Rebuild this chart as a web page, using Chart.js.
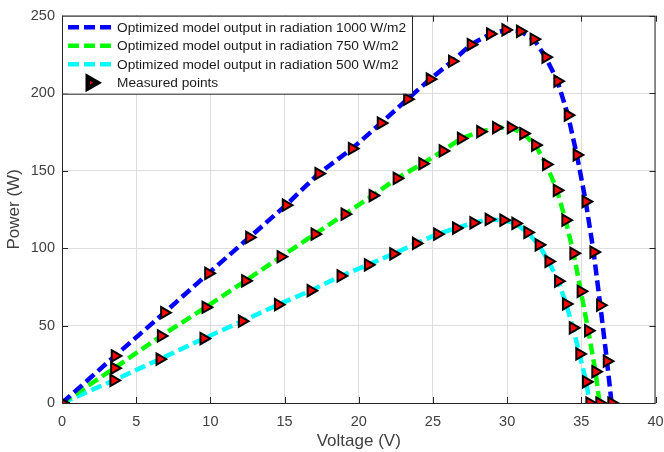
<!doctype html>
<html>

<head>
    <title>PV curves</title>
    <script src="https://cdn.jsdelivr.net/npm/chart.js"></script>
    <style>
        body { margin: 0; background: #fff; }
    </style>
</head>

<body>
    <canvas id="curvaPV" width="664" height="452"></canvas>

    <script>
        // valores (tensao em V, potencia em W)
        const tensao1000 = [0, 3.57, 6.9, 9.87, 12.63, 15.1, 17.3, 19.55, 21.5, 23.28, 24.8, 26.3, 27.56, 28.86, 29.9, 30.88, 31.8, 32.6, 33.4, 34.1, 34.7, 35.3, 35.83, 36.28, 36.73, 37.04]
        const potencia1000 = [0, 30.4, 58.3, 83.7, 106.9, 127.7, 148.1, 164.2, 180.7, 196.1, 209, 220.6, 231.4, 238.2, 240.8, 239.9, 234.8, 223.2, 207.7, 185.8, 160.1, 130, 97.4, 63.1, 27, 0]

        const tensao750 = [0, 3.53, 6.68, 9.69, 12.36, 14.75, 17.04, 19.06, 20.95, 22.57, 24.3, 25.67, 26.9, 28.2, 29.27, 30.26, 31.1, 31.9, 32.64, 33.36, 33.94, 34.48, 34.97, 35.47, 35.96, 36.23]
        const potencia750 = [0, 22.5, 43.3, 61.8, 78.9, 94.4, 109, 121.9, 133.9, 145, 154.5, 162.7, 170.8, 175.1, 177.7, 177.7, 173.9, 166.5, 154, 137.3, 118, 96.6, 72.1, 46.7, 20.2, 0]

        const tensao500 = [0, 3.48, 6.59, 9.55, 12.14, 14.57, 16.77, 18.79, 20.63, 22.34, 23.87, 25.3, 26.57, 27.74, 28.77, 29.76, 30.57, 31.38, 32.14, 32.8, 33.45, 33.98, 34.44, 34.88, 35.33, 35.56]
        const potencia500 = [0, 14.6, 28.3, 41.6, 52.8, 63.5, 72.5, 82, 89.2, 96.3, 103, 109, 112.9, 116.3, 118.5, 118, 115.9, 110.1, 102.1, 91.4, 78.6, 63.9, 48.5, 31.7, 13.7, 0]

        const xTicks = [0, 5, 10, 15, 20, 25, 30, 35, 40]
        const yTicks = [0, 50, 100, 150, 200, 250]

        const nomesSeries = [
            'Optimized model output in radiation 1000 W/m2',
            'Optimized model output in radiation 750 W/m2',
            'Optimized model output in radiation 500 W/m2',
            'Measured points'
        ]
        const coresSeries = ['#0000ff', '#00ff00', '#00ffff']

        const fonte = '"Liberation Sans", Arial, sans-serif'
        const traco = [11, 5]

        function pontos(xs, ys) {
            return xs.map((x, i) => ({ x: x, y: ys[i] }))
        }

        const series = [
            pontos(tensao1000, potencia1000),
            pontos(tensao750, potencia750),
            pontos(tensao500, potencia500)
        ]

        function desenhaTriangulo(ctx, x, y) {
            Chart.helpers.drawPoint(ctx, { pointStyle: 'triangle', rotation: 90, radius: 6.5, borderWidth: 2 }, x, y)
        }

        // caixa do grafico + ticks para dentro (estilo matlab)
        const caixaPlot = {
            id: 'caixaPlot',
            afterDraw(chart) {
                const { ctx, chartArea: { top, bottom, left, right }, scales: { x, y } } = chart
                ctx.save()
                ctx.strokeStyle = '#262626'
                ctx.lineWidth = 1
                ctx.strokeRect(left + 0.5, top + 0.5, right - left - 1, bottom - top)
                ctx.beginPath()
                xTicks.forEach(v => {
                    const px = Math.round(x.getPixelForValue(v)) + 0.5
                    ctx.moveTo(px, bottom); ctx.lineTo(px, bottom - 6)
                    ctx.moveTo(px, top); ctx.lineTo(px, top + 6)
                })
                yTicks.forEach(v => {
                    const py = Math.round(y.getPixelForValue(v)) + 0.5
                    ctx.moveTo(left, py); ctx.lineTo(left + 6, py)
                    ctx.moveTo(right, py); ctx.lineTo(right - 6, py)
                })
                ctx.stroke()
                ctx.restore()
            }
        }

        // legenda dentro do grafico, canto superior esquerdo
        const legendaDentro = {
            id: 'legendaDentro',
            afterDraw(chart) {
                const { ctx, chartArea: { top, left } } = chart
                const largura = 350, altura = 78
                ctx.save()
                ctx.fillStyle = '#fff'
                ctx.fillRect(left, top, largura, altura)
                ctx.strokeStyle = '#262626'
                ctx.lineWidth = 1
                ctx.strokeRect(left + 0.5, top + 0.5, largura, altura)

                ctx.font = '13.7px ' + fonte
                ctx.textBaseline = 'middle'
                ctx.textAlign = 'left'
                nomesSeries.forEach((nome, i) => {
                    const yy = top + 11.5 + i * 18.5
                    if (i < 3) {
                        ctx.strokeStyle = coresSeries[i]
                        ctx.lineWidth = 4.5
                        ctx.setLineDash(traco)
                        ctx.beginPath()
                        ctx.moveTo(left + 6, yy)
                        ctx.lineTo(left + 52, yy)
                        ctx.stroke()
                        ctx.setLineDash([])
                    } else {
                        ctx.fillStyle = '#ff0000'
                        ctx.strokeStyle = '#000'
                        desenhaTriangulo(ctx, left + 29, yy)
                    }
                    ctx.fillStyle = '#1a1a1a'
                    ctx.fillText(nome, left + 55, yy + 1)
                })
                ctx.restore()
            }
        }

        const linhas = series.map((dados, i) => ({
            label: nomesSeries[i],
            data: dados,
            showLine: true,
            borderColor: coresSeries[i],
            borderWidth: 4.5,
            borderDash: traco,
            pointRadius: 0,
            tension: 0,
            order: 2
        }))

        const medidos = series.map((dados, i) => ({
            label: 'Measured points',
            data: dados,
            showLine: false,
            pointStyle: 'triangle',
            rotation: 90,
            pointRadius: 6.5,
            pointBackgroundColor: '#ff0000',
            pointBorderColor: '#000',
            pointBorderWidth: 2,
            order: 1
        }))

        var grafico = new Chart(document.getElementById('curvaPV').getContext('2d'), {
            type: 'scatter',
            data: {
                datasets: linhas.concat(medidos)
            },
            options: {
                responsive: false,
                animation: false,
                layout: {
                    padding: { top: 15, right: 2, left: 0, bottom: 0 }
                },
                plugins: {
                    legend: { display: false },
                    tooltip: { enabled: false }
                },
                scales: {
                    x: {
                        type: 'linear',
                        min: 0,
                        max: 40,
                        afterBuildTicks(scale) {
                            scale.ticks = xTicks.map(v => ({ value: v }))
                        },
                        afterFit(scale) {
                            scale.height = 49
                            scale.paddingRight = 0
                        },
                        ticks: {
                            color: '#404040',
                            font: { family: fonte, size: 14.5 },
                            padding: 10,
                            maxRotation: 0
                        },
                        grid: { color: '#dedede', drawTicks: false },
                        border: { display: false },
                        title: {
                            display: true,
                            text: 'Voltage (V)',
                            color: '#404040',
                            font: { family: fonte, size: 17 },
                            padding: { top: 1, bottom: 0 }
                        }
                    },
                    y: {
                        type: 'linear',
                        min: 0,
                        max: 250,
                        afterBuildTicks(scale) {
                            scale.ticks = yTicks.map(v => ({ value: v }))
                        },
                        afterFit(scale) {
                            scale.width = 62
                        },
                        ticks: {
                            color: '#404040',
                            font: { family: fonte, size: 14.5 },
                            padding: 7
                        },
                        grid: { color: '#dedede', drawTicks: false },
                        border: { display: false },
                        title: {
                            display: true,
                            text: 'Power (W)',
                            color: '#404040',
                            font: { family: fonte, size: 17 },
                            padding: { top: 4, bottom: 0 }
                        }
                    }
                }
            },
            plugins: [caixaPlot, legendaDentro]
        });
    </script>
</body>

</html>
